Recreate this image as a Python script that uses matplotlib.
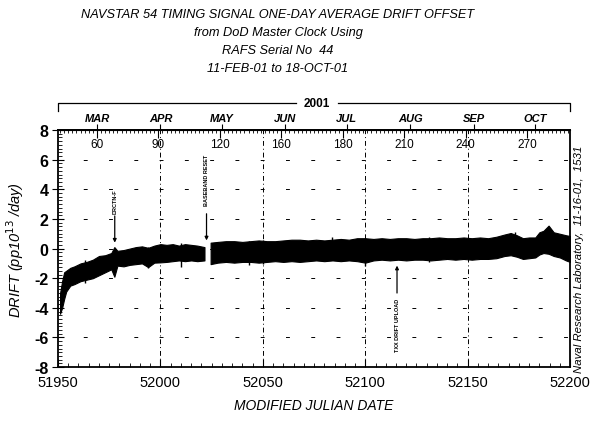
import matplotlib
matplotlib.use('Agg')
import matplotlib.pyplot as plt
from matplotlib.ticker import MultipleLocator, FixedLocator

plt.rcParams['font.family'] = ['Liberation Sans', 'DejaVu Sans']
plt.rcParams['axes.unicode_minus'] = False

# data: envelope (high / low) of the daily drift trace
mjd_a = [51951, 51952, 51953, 51954, 51956, 51958, 51961, 51964, 51967, 51970,
         51973, 51976, 51977.5, 51979, 51982, 51985, 51988, 51991, 51994, 51997,
         52000, 52003, 52006, 52009, 52012, 52015, 52018, 52021.5]
hi_a = [-3.0, -2.2, -1.6, -1.5, -1.3, -1.2, -1.0, -0.9, -0.75, -0.5,
        -0.45, -0.3, 0.1, -0.15, -0.1, 0.0, 0.1, 0.15, 0.05, 0.2,
        0.3, 0.25, 0.3, 0.2, 0.3, 0.25, 0.2, 0.1]
lo_a = [-4.4, -4.0, -3.4, -2.9, -2.5, -2.4, -2.2, -2.1, -2.0, -1.8,
        -1.6, -1.4, -1.9, -1.15, -1.2, -1.1, -1.05, -1.0, -1.25, -0.95,
        -0.93, -0.9, -0.85, -0.8, -0.85, -0.8, -0.85, -0.8]

mjd_b = [52024.5, 52028, 52032, 52036, 52040, 52044, 52048, 52052, 52056, 52060,
         52064, 52068, 52072, 52076, 52080, 52084, 52088, 52092, 52096, 52100,
         52104, 52108, 52112, 52116, 52120, 52124, 52128, 52132, 52136, 52140,
         52144, 52148, 52152, 52156, 52160, 52164, 52168, 52171, 52174, 52177,
         52180, 52183, 52185, 52187, 52189.5, 52192, 52195, 52198, 52200]
hi_b = [0.4, 0.45, 0.5, 0.5, 0.45, 0.5, 0.55, 0.5, 0.5, 0.55,
        0.6, 0.6, 0.55, 0.6, 0.55, 0.6, 0.65, 0.6, 0.7, 0.7,
        0.65, 0.7, 0.65, 0.7, 0.7, 0.65, 0.7, 0.7, 0.75, 0.7,
        0.7, 0.75, 0.7, 0.75, 0.7, 0.8, 0.95, 1.05, 0.9, 0.7,
        0.75, 0.75, 1.1, 1.2, 1.55, 1.1, 1.0, 0.9, 0.85]
lo_b = [-1.05, -0.95, -0.9, -0.95, -0.9, -0.9, -0.95, -0.9, -0.85, -0.9,
        -0.85, -0.9, -0.85, -0.8, -0.85, -0.8, -0.85, -0.8, -0.85, -0.95,
        -0.8, -0.75, -0.8, -0.75, -0.8, -0.75, -0.75, -0.8, -0.75, -0.7,
        -0.75, -0.7, -0.75, -0.7, -0.7, -0.65, -0.5, -0.45, -0.55, -0.7,
        -0.65, -0.6, -0.4, -0.3, -0.35, -0.5, -0.6, -0.8, -0.9]

# single-day spikes that stick out of the band
spike_mjd = [51963, 51994, 52010, 52043, 52050, 52084, 52100, 52131, 52173]
spike_lo = [-2.3, -1.3, -1.25, -1.1, -1.05, -0.8, -1.15, -0.9, -0.5]
spike_hi = [-0.8, 0.1, 0.35, 0.5, 0.55, 0.75, 0.7, 0.8, 1.15]

# top axis: day of year 2001 (doy = MJD - 51909)
doy_ticks = [60, 90, 120, 150, 180, 210, 240, 270]
doy_labels = ['60', '90', '120', '160', '180', '210', '240', '270']
month_doy = [60, 91, 121, 152, 182, 213, 244, 274]
month_labels = ['MAR', 'APR', 'MAY', 'JUN', 'JUL', 'AUG', 'SEP', 'OCT']

events = [('DRCTN-F', 51977.7, 2.2, 0.4, 2.4),
          ('BASEBAND RESET', 52022.5, 2.35, 0.55, 2.95),
          ('TXX DRIFT UPLOAD', 52115.5, -3.0, -1.15, -3.3)]

fig = plt.figure(figsize=(5.92, 4.27), dpi=100)
ax = fig.add_axes([0.098, 0.138, 0.865, 0.555])

ax.fill_between(mjd_a, lo_a, hi_a, color='black', lw=0.8)
ax.fill_between(mjd_b, lo_b, hi_b, color='black', lw=0.8)
ax.vlines(spike_mjd, spike_lo, spike_hi, color='black', lw=1.0)

for y in [-6, -4, -2, 0, 2, 4, 6]:
    ax.axhline(y, color='black', lw=0.7, dashes=(4, 22), zorder=0)
for x in [52000, 52050, 52100, 52150]:
    ax.axvline(x, color='black', lw=0.7, dashes=(5, 3, 1, 3), zorder=0)

for txt, x, y0, y1, ty in events:
    ax.annotate('', xy=(x, y1), xytext=(x, y0),
                arrowprops=dict(arrowstyle='-|>', color='black', lw=0.9,
                                mutation_scale=5, shrinkA=0, shrinkB=0))
    va = 'bottom' if ty > 0 else 'top'
    ax.text(x, ty, txt, rotation=90, fontsize=4, fontweight='bold',
            ha='center', va=va)

ax.set_xlim(51950, 52200)
ax.set_ylim(-8, 8)
ax.xaxis.set_major_locator(MultipleLocator(50))
ax.xaxis.set_minor_locator(MultipleLocator(5))
ax.yaxis.set_major_locator(MultipleLocator(2))
ax.yaxis.set_minor_locator(MultipleLocator(0.25))
ax.tick_params(axis='x', which='major', direction='in', length=6, labelsize=10.5, pad=6)
ax.tick_params(axis='x', which='minor', direction='in', length=3)
ax.tick_params(axis='y', which='major', direction='inout', length=8, labelsize=11.5, pad=3)
ax.tick_params(axis='y', which='minor', direction='in', length=3)
for lab in ax.get_yticklabels():
    lab.set_fontweight('bold')
for sp in ax.spines.values():
    sp.set_linewidth(1.3)

sec = ax.secondary_xaxis('top', functions=(lambda m: m - 51909, lambda d: d + 51909))
sec.xaxis.set_major_locator(FixedLocator(doy_ticks))
sec.set_xticklabels(doy_labels)
sec.xaxis.set_minor_locator(MultipleLocator(2))
sec.tick_params(which='major', direction='in', length=6, labelsize=8.5, pad=-14)
sec.tick_params(which='minor', direction='in', length=2.5)
sec.spines['top'].set_linewidth(1.3)

mon = ax.secondary_xaxis('top', functions=(lambda m: m - 51909, lambda d: d + 51909))
mon.xaxis.set_major_locator(FixedLocator(month_doy))
mon.set_xticklabels(month_labels)
mon.tick_params(direction='out', length=4, labelsize=8, pad=1)
for lab in mon.get_xticklabels():
    lab.set_fontstyle('italic')
    lab.set_fontweight('bold')

ax.set_xlabel('MODIFIED JULIAN DATE', fontsize=10, style='italic', labelpad=6)
ax.set_ylabel('DRIFT (pp10$^{13}$ /day)', fontsize=10.5, style='italic', labelpad=6)

# year bracket above the top axis
yb = 1 - 104 / 427
yh = 1 - 112 / 427
fig.lines.append(plt.Line2D([58 / 592, 58 / 592, 296 / 592], [yh, yb, yb],
                            transform=fig.transFigure, color='black', lw=0.9))
fig.lines.append(plt.Line2D([338 / 592, 570 / 592, 570 / 592], [yb, yb, yh],
                            transform=fig.transFigure, color='black', lw=0.9))
fig.text(317 / 592, yb, '2001', fontsize=8.5, fontweight='bold', ha='center', va='center')

title = ('NAVSTAR 54 TIMING SIGNAL ONE-DAY AVERAGE DRIFT OFFSET\n'
         'from DoD Master Clock Using\n'
         'RAFS Serial No  44\n'
         '11-FEB-01 to 18-OCT-01')
fig.text(278 / 592, 1 - 9 / 427, title, fontsize=9.2, style='italic', ha='center',
         va='top', linespacing=1.68)

fig.text(579 / 592, 1 - 259 / 427, 'Naval Research Laboratory,  11-16-01,  1531',
         rotation=90, fontsize=8.2, style='italic', ha='center', va='center')

fig.savefig('out.png', dpi=100)
